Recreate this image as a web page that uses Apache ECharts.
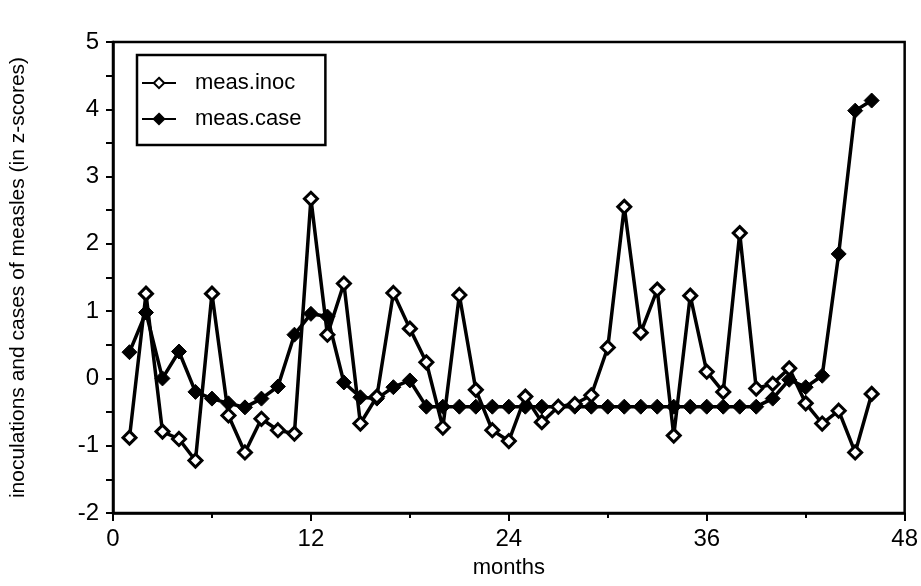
<!DOCTYPE html>
<html>
<head>
<meta charset="utf-8">
<script src="https://cdn.jsdelivr.net/npm/echarts@6/dist/echarts.min.js"></script>
<style>
html,body{margin:0;padding:0;background:#fff;}
#chart{width:921px;height:586px;}
</style>
</head>
<body>
<div id="chart"></div>
<script>
// months 1..46
var months = [];
for (var i = 1; i <= 46; i++) months.push(i);

var measInoc = [-0.88, 1.26, -0.79, -0.9, -1.22, 1.26, -0.55, -1.1, -0.6, -0.77,
    -0.82, 2.67, 0.65, 1.41, -0.67, -0.27, 1.27, 0.74, 0.24, -0.73,
    1.24, -0.17, -0.77, -0.93, -0.27, -0.65, -0.42, -0.38, -0.25, 0.46,
    2.55, 0.68, 1.32, -0.85, 1.23, 0.1, -0.2, 2.16, -0.15, -0.08,
    0.15, -0.37, -0.67, -0.48, -1.1, -0.23];

var measCase = [0.39, 0.98, 0.0, 0.4, -0.2, -0.3, -0.37, -0.43, -0.3, -0.12,
    0.65, 0.96, 0.92, -0.06, -0.28, -0.3, -0.13, -0.03, -0.42, -0.42,
    -0.42, -0.42, -0.42, -0.42, -0.42, -0.42, -0.42, -0.42, -0.42, -0.42,
    -0.42, -0.42, -0.42, -0.42, -0.42, -0.42, -0.42, -0.42, -0.42, -0.3,
    -0.02, -0.13, 0.04, 1.85, 3.98, 4.13];

function pairs(vals){
    return vals.map(function(v, i){ return [months[i], v]; });
}

var chart = echarts.init(document.getElementById('chart'));
var font = 'Liberation Sans, Arial, sans-serif';
var narrow = 'Liberation Sans Narrow, Liberation Sans, sans-serif';

var options = {
    animation: false,
    backgroundColor: '#fff',
    grid: {
        left: 112, right: 15, top: 42, bottom: 73,
        show: true,
        borderColor: '#000',
        borderWidth: 2.5
    },
    legend: {
        left: 137, top: 55,
        orient: 'vertical',
        borderColor: '#000',
        borderWidth: 2.5,
        padding: [17, 24, 15, 4],
        itemGap: 14,
        itemWidth: 34,
        itemHeight: 13,
        textStyle: { fontFamily: font, fontSize: 22, color: '#000', padding: [0, 0, 0, 14] },
        data: ['meas.inoc', 'meas.case']
    },
    xAxis: {
        type: 'value',
        min: 0, max: 48, interval: 12,
        name: 'months',
        nameLocation: 'middle',
        nameGap: 44,
        nameTextStyle: { fontFamily: narrow, fontSize: 22, color: '#000' },
        axisLine: { onZero: false, lineStyle: { color: '#000', width: 2.5 } },
        axisTick: { show: true, length: 8, lineStyle: { color: '#000', width: 2 } },
        minorTick: { show: true, splitNumber: 2, length: 5, lineStyle: { color: '#000', width: 2 } },
        splitLine: { show: false },
        axisLabel: { fontFamily: narrow, fontSize: 24, color: '#000', margin: 14 }
    },
    yAxis: {
        type: 'value',
        min: -2, max: 5, interval: 1,
        name: 'inoculations and cases of measles (in z-scores)',
        nameLocation: 'middle',
        nameGap: 84,
        nameTextStyle: { fontFamily: font, fontSize: 21, color: '#000' },
        axisLine: { show: true, onZero: false, lineStyle: { color: '#000', width: 2.5 } },
        axisTick: { show: true, length: 7, lineStyle: { color: '#000', width: 2 } },
        minorTick: { show: true, splitNumber: 2, length: 7, lineStyle: { color: '#000', width: 2 } },
        splitLine: { show: false },
        axisLabel: { fontFamily: narrow, fontSize: 24, color: '#000', margin: 14 }
    },
    series: [
        {
            name: 'meas.inoc',
            type: 'line',
            data: pairs(measInoc),
            symbol: 'diamond',
            symbolSize: 13,
            lineStyle: { color: '#000', width: 3.5 },
            itemStyle: { color: '#fff', borderColor: '#000', borderWidth: 3 },
            z: 3
        },
        {
            name: 'meas.case',
            type: 'line',
            data: pairs(measCase),
            symbol: 'diamond',
            symbolSize: 15,
            lineStyle: { color: '#000', width: 3.5 },
            itemStyle: { color: '#000', borderColor: '#000', borderWidth: 1 },
            z: 2
        }
    ]
};
chart.setOption(options);
</script>
</body>
</html>
